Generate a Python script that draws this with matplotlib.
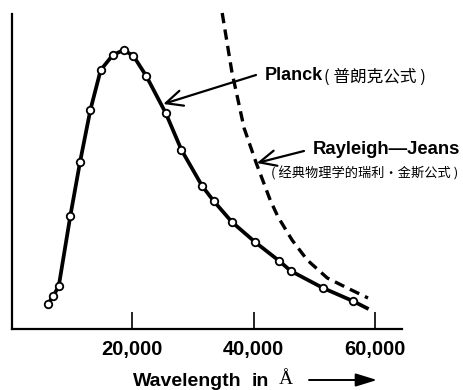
import numpy as np
import matplotlib
matplotlib.use("Agg")
import matplotlib.pyplot as plt

# Planck curve: measured points (wavelength in Å, intensity in arbitrary units)
planck_wl = [6100, 7000, 7900, 9800, 11400, 13100, 14800, 16800, 18600, 20200,
             22300, 25500, 28100, 31500, 33400, 36400, 40200, 44200, 46100,
             51400, 56300]
planck_val = [0.25, 0.33, 0.43, 1.13, 1.67, 2.19, 2.59, 2.74, 2.79, 2.73,
              2.53, 2.16, 1.79, 1.43, 1.28, 1.07, 0.87, 0.68, 0.58,
              0.41, 0.28]
# where the drawn curve stops, past the last point
planck_tail_wl = [58900]
planck_tail_val = [0.20]

# Rayleigh-Jeans curve (dashed)
rj_wl = [34800, 36400, 37300, 38400, 40400, 42700, 44000, 46300, 48800,
         52100, 55400, 58800]
rj_val = [3.16, 2.57, 2.32, 2.01, 1.66, 1.29, 1.12, 0.89, 0.69,
          0.51, 0.41, 0.31]

tick_pos = [20000, 40000, 60000]
tick_labels = ["20,000", "40,000", "60,000"]

sans = ["Liberation Sans", "Noto Sans CJK SC"]
cjk = ["Noto Sans CJK SC", "DejaVu Sans"]

W, H = 463, 390
fig = plt.figure(figsize=(W / 100, H / 100), dpi=100)
ax = fig.add_axes([12 / W, 1 - 329 / H, 390 / W, 315 / H])

ax.plot(planck_wl + planck_tail_wl, planck_val + planck_tail_val,
        color="black", lw=2.7, solid_capstyle="butt", zorder=2)
ax.plot(planck_wl, planck_val, ls="none", marker="o", ms=5.4,
        mfc="white", mec="black", mew=1.3, zorder=3)
ax.plot(rj_wl, rj_val, color="black", lw=2.4, ls=(0, (3.1, 1.9)),
        dash_capstyle="butt", zorder=2, clip_on=False)

ax.set_xlim(200, 64400)
ax.set_ylim(0, 3.15)
ax.set_yticks([])
ax.set_xticks(tick_pos)
ax.set_xticklabels(tick_labels, fontfamily=sans, fontsize=14.5, fontweight="bold")
ax.tick_params(axis="x", direction="in", length=12, width=1.2, pad=8)
for s in ["top", "right"]:
    ax.spines[s].set_visible(False)
for s in ["left", "bottom"]:
    ax.spines[s].set_linewidth(1.6)

def px(x, y):
    # figure pixel (from top-left) -> figure fraction
    return (x / W, 1 - y / H)

arrow_open = dict(arrowstyle="->,head_length=0.6,head_width=0.28",
                  color="black", lw=1.6, mutation_scale=20, shrinkA=0, shrinkB=0)

# Planck label + arrow
fig.text(*px(265, 76), "Planck", fontfamily=sans, fontsize=13,
         fontweight="bold", ha="left", va="center")
fig.text(*px(324, 77), "( 普朗克公式 )", fontfamily=cjk, fontsize=12,
         ha="left", va="center")
ax.annotate("", xy=(25100, 2.25), xycoords="data",
            xytext=px(256, 75), textcoords="figure fraction",
            arrowprops=arrow_open)

# Rayleigh-Jeans label + arrow
fig.text(*px(313, 150), "Rayleigh—Jeans", fontfamily=sans, fontsize=13.3,
         fontweight="bold", ha="left", va="center")
fig.text(*px(365, 173), "( 经典物理学的瑞利·金斯公式 )", fontfamily=cjk,
         fontsize=9.5, ha="center", va="center")
ax.annotate("", xy=(40500, 1.66), xycoords="data",
            xytext=px(304, 151), textcoords="figure fraction",
            arrowprops=arrow_open)

# x axis label with arrow
fig.text(*px(133, 381), "Wavelength", fontfamily=sans, fontsize=14,
         fontweight="bold", ha="left", va="center")
fig.text(*px(252, 381), "in", fontfamily=sans, fontsize=14,
         fontweight="bold", ha="left", va="center")
fig.text(*px(286, 379), "Å", fontfamily=["Liberation Serif"], fontsize=14,
         ha="center", va="center")
ax.annotate("", xy=px(377, 380), xycoords="figure fraction",
            xytext=px(309, 380), textcoords="figure fraction",
            arrowprops=dict(arrowstyle="-|>,head_length=0.65,head_width=0.2",
                            color="black", lw=1.4, mutation_scale=20,
                            shrinkA=0, shrinkB=0))

fig.savefig("out.png", dpi=100)
